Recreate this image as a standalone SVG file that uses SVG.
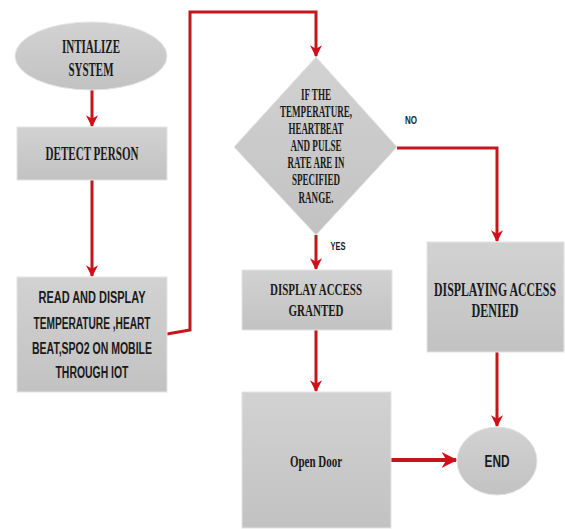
<svg xmlns="http://www.w3.org/2000/svg" width="565" height="529" viewBox="0 0 565 529">
<style>
.shape{fill:url(#g);stroke:#e4e4e4;stroke-width:1}
.t{font-family:"Liberation Serif",serif;font-weight:bold;fill:#1a1a1a;text-anchor:middle}
.s{font-family:"Liberation Sans",sans-serif;font-weight:bold;fill:#1a1a1a;text-anchor:middle}
.c{fill:none;stroke:#c4161c;stroke-width:3;stroke-linejoin:miter}
</style>
<defs>
<linearGradient id="g" x1="0" y1="0" x2="0" y2="1">
<stop offset="0" stop-color="#d2d2d2"/>
<stop offset="1" stop-color="#c2c2c2"/>
</linearGradient>
<marker id="a" viewBox="0 0 10 10" refX="9" refY="5" markerWidth="4" markerHeight="4" orient="auto" markerUnits="strokeWidth">
<path d="M0,0 L10,5 L0,10 L3,5 Z" fill="#d01018"/>
</marker>
</defs>
<rect width="565" height="529" fill="#ffffff"/>
<g id="connectors">
<path class="c" d="M92,90 V126" marker-end="url(#a)"/>
<path class="c" d="M92,180 V276" marker-end="url(#a)"/>
<path class="c" d="M167,334 L190,330 V12 H316 V56" marker-end="url(#a)"/>
<path class="c" d="M397,148 H497 V241" marker-end="url(#a)"/>
<path class="c" d="M316,235 V269" marker-end="url(#a)"/>
<path class="c" d="M316,330 V391" marker-end="url(#a)"/>
<path class="c" d="M497,352 V426" marker-end="url(#a)"/>
<path class="c" style="stroke-width:4" d="M391,460 H456" marker-end="url(#a)"/>
</g>
<g id="init">
<ellipse class="shape" cx="91" cy="56" rx="76" ry="34"/>
<text class="t" x="91" y="53" font-size="18" textLength="58" lengthAdjust="spacingAndGlyphs">INTIALIZE</text>
<text class="t" x="91" y="76" font-size="18" textLength="45" lengthAdjust="spacingAndGlyphs">SYSTEM</text>
</g>
<g id="detect">
<rect class="shape" x="17" y="127" width="150" height="53"/>
<text class="t" x="92" y="160" font-size="18" textLength="93" lengthAdjust="spacingAndGlyphs">DETECT PERSON</text>
</g>
<g id="read">
<rect class="shape" x="17" y="277" width="150" height="115"/>
<text class="s" x="92" y="303" font-size="16" textLength="107" lengthAdjust="spacingAndGlyphs">READ AND DISPLAY</text>
<text class="s" x="92" y="329" font-size="16" textLength="117" lengthAdjust="spacingAndGlyphs">TEMPERATURE ,HEART</text>
<text class="s" x="92" y="354" font-size="16" textLength="120" lengthAdjust="spacingAndGlyphs">BEAT,SPO2 ON MOBILE</text>
<text class="s" x="92" y="378" font-size="16" textLength="73" lengthAdjust="spacingAndGlyphs">THROUGH IOT</text>
</g>
<g id="decision">
<polygon class="shape" points="316,57 397,147 316,235 234,147"/>
<text class="t" x="316" y="100" font-size="16" textLength="30" lengthAdjust="spacingAndGlyphs">IF THE</text>
<text class="t" x="316" y="117" font-size="16" textLength="72" lengthAdjust="spacingAndGlyphs">TEMPERATURE,</text>
<text class="t" x="316" y="134" font-size="16" textLength="55" lengthAdjust="spacingAndGlyphs">HEARTBEAT</text>
<text class="t" x="316" y="151" font-size="16" textLength="51" lengthAdjust="spacingAndGlyphs">AND PULSE</text>
<text class="t" x="316" y="168" font-size="16" textLength="57" lengthAdjust="spacingAndGlyphs">RATE ARE IN</text>
<text class="t" x="316" y="185" font-size="16" textLength="48" lengthAdjust="spacingAndGlyphs">SPECIFIED</text>
<text class="t" x="316" y="203" font-size="16" textLength="35" lengthAdjust="spacingAndGlyphs">RANGE.</text>
</g>
<text class="s" x="411" y="124" font-size="10" textLength="12" lengthAdjust="spacingAndGlyphs">NO</text>
<text class="s" x="338" y="250" font-size="10" textLength="15" lengthAdjust="spacingAndGlyphs">YES</text>
<g id="granted">
<rect class="shape" x="242" y="270" width="150" height="60"/>
<text class="t" x="316" y="295" font-size="17" textLength="92" lengthAdjust="spacingAndGlyphs">DISPLAY ACCESS</text>
<text class="t" x="316" y="316" font-size="17" textLength="55" lengthAdjust="spacingAndGlyphs">GRANTED</text>
</g>
<g id="denied">
<rect class="shape" x="427" y="242" width="137" height="110"/>
<text class="t" x="495" y="296" font-size="19" textLength="122" lengthAdjust="spacingAndGlyphs">DISPLAYING ACCESS</text>
<text class="t" x="495" y="317" font-size="19" textLength="47" lengthAdjust="spacingAndGlyphs">DENIED</text>
</g>
<g id="open">
<rect class="shape" x="242" y="392" width="149" height="136"/>
<text class="t" x="316" y="467" font-size="17" textLength="52" lengthAdjust="spacingAndGlyphs">Open Door</text>
</g>
<g id="end">
<ellipse class="shape" cx="497" cy="461" rx="40" ry="34"/>
<text class="s" x="497" y="467" font-size="16" textLength="25" lengthAdjust="spacingAndGlyphs">END</text>
</g>
</svg>
